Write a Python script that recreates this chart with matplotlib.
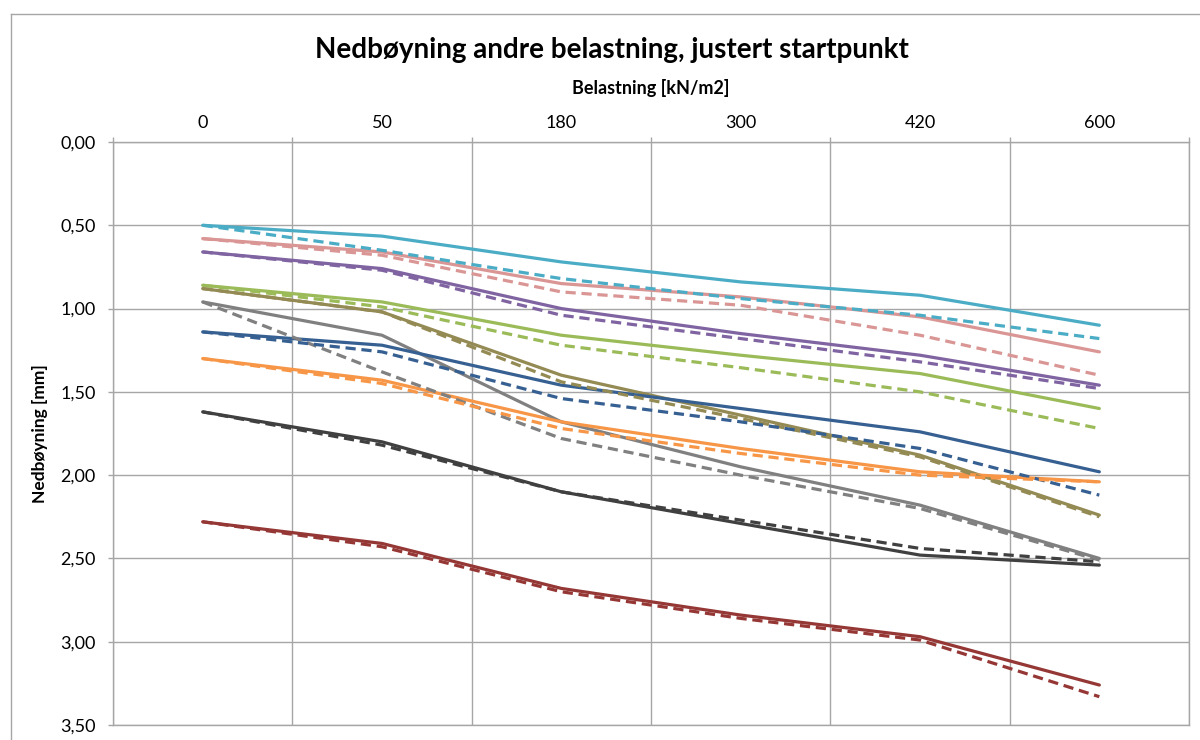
import matplotlib
matplotlib.use('Agg')
import matplotlib.pyplot as plt
from matplotlib.ticker import FixedLocator, FuncFormatter
from matplotlib.lines import Line2D

plt.rcParams['font.family'] = ['Lato', 'DejaVu Sans']
GRID = '#A6A6A6'

# ============================== DATA ============================== #

loads = ['0', '50', '180', '300', '420', '600']

# (colour, solid = measured, dashed = calculated)
cyan_solid = [0.50, 0.565, 0.72, 0.84, 0.92, 1.10]
cyan_dash = [0.50, 0.65, 0.82, 0.94, 1.04, 1.18]
pink_solid = [0.58, 0.66, 0.85, 0.93, 1.05, 1.26]
pink_dash = [0.58, 0.68, 0.90, 0.98, 1.16, 1.40]
purple_solid = [0.66, 0.76, 1.00, 1.15, 1.28, 1.46]
purple_dash = [0.66, 0.77, 1.04, 1.18, 1.32, 1.48]
green_solid = [0.86, 0.96, 1.16, 1.28, 1.39, 1.60]
green_dash = [0.86, 0.99, 1.22, 1.355, 1.50, 1.72]
olive_solid = [0.88, 1.02, 1.40, 1.64, 1.88, 2.24]
olive_dash = [0.88, 1.02, 1.44, 1.66, 1.89, 2.25]
gray_solid = [0.96, 1.16, 1.68, 1.95, 2.18, 2.50]
gray_dash = [0.96, 1.38, 1.78, 2.00, 2.20, 2.51]
blue_solid = [1.14, 1.22, 1.46, 1.60, 1.74, 1.98]
blue_dash = [1.14, 1.26, 1.54, 1.68, 1.84, 2.12]
orange_solid = [1.30, 1.43, 1.68, 1.84, 1.98, 2.04]
orange_dash = [1.30, 1.45, 1.72, 1.87, 2.00, 2.04]
black_solid = [1.62, 1.80, 2.10, 2.29, 2.48, 2.54]
black_dash = [1.62, 1.82, 2.10, 2.27, 2.44, 2.52]
red_solid = [2.28, 2.41, 2.68, 2.84, 2.97, 3.26]
red_dash = [2.28, 2.43, 2.70, 2.86, 2.99, 3.33]

series = [
    ('#4BACC6', cyan_solid, cyan_dash),
    ('#D99694', pink_solid, pink_dash),
    ('#8064A2', purple_solid, purple_dash),
    ('#9BBB59', green_solid, green_dash),
    ('#948A54', olive_solid, olive_dash),
    ('#808080', gray_solid, gray_dash),
    ('#376092', blue_solid, blue_dash),
    ('#F79646', orange_solid, orange_dash),
    ('#404040', black_solid, black_dash),
    ('#953735', red_solid, red_dash),
]

# ============================== PLOT ============================== #

fig = plt.figure(figsize=(12, 7.4), dpi=100)
ax = fig.add_axes([113/1200, 15/740, 1076/1200, 583/740])

x = list(range(len(loads)))
for color, solid, _ in series:
    ax.plot(x, solid, color=color, lw=2.3, solid_capstyle='round', zorder=3)
for color, _, dash in series:
    ax.plot(x, dash, color=color, lw=2.3, dashes=(3.2, 1.8), dash_capstyle='butt', zorder=4)

ax.set_xlim(-0.5, len(loads) - 0.5)
ax.set_ylim(3.5, 0)

# category axis on top: boundaries carry ticks + grid, centres carry labels
ax.xaxis.tick_top()
ax.xaxis.set_major_locator(FixedLocator([i - 0.5 for i in range(len(loads) + 1)]))
ax.xaxis.set_minor_locator(FixedLocator(x))
ax.xaxis.set_major_formatter(FuncFormatter(lambda v, _: ''))
ax.xaxis.set_minor_formatter(FuncFormatter(lambda v, _: loads[int(round(v))]))
ax.tick_params(axis='x', which='major', direction='out', length=3.6, width=1, color=GRID)
ax.tick_params(axis='x', which='minor', length=0, pad=8, labelsize=13)
ax.xaxis.set_label_position('top')
ax.set_xlabel('Belastning [kN/m2]', fontsize=13, fontweight='bold', labelpad=15)

ax.set_yticks([i * 0.5 for i in range(8)])
ax.yaxis.set_major_formatter(FuncFormatter(lambda v, _: f'{v:.2f}'.replace('.', ',')))
ax.tick_params(axis='y', direction='out', length=3.6, width=1, color=GRID, pad=9, labelsize=13)
ax.set_ylabel('Nedbøyning [mm]', fontsize=12.5, fontweight='bold', labelpad=9)

ax.grid(True, which='major', color=GRID, lw=1.0, zorder=0)
ax.set_axisbelow(True)
for s in ax.spines.values():
    s.set_color(GRID)
    s.set_linewidth(1.0)

fig.text(612/1200, 1 - 50/740, 'Nedbøyning andre belastning, justert startpunkt',
         ha='center', va='center', fontsize=20, fontweight='bold')

# chart area border
fig.add_artist(Line2D([11/1200, 1.0], [1 - 14/740, 1 - 14/740], color=GRID, lw=1.0, transform=fig.transFigure))
fig.add_artist(Line2D([11/1200, 11/1200], [0, 1 - 14/740], color=GRID, lw=1.0, transform=fig.transFigure))

fig.savefig('out.png', dpi=100)
